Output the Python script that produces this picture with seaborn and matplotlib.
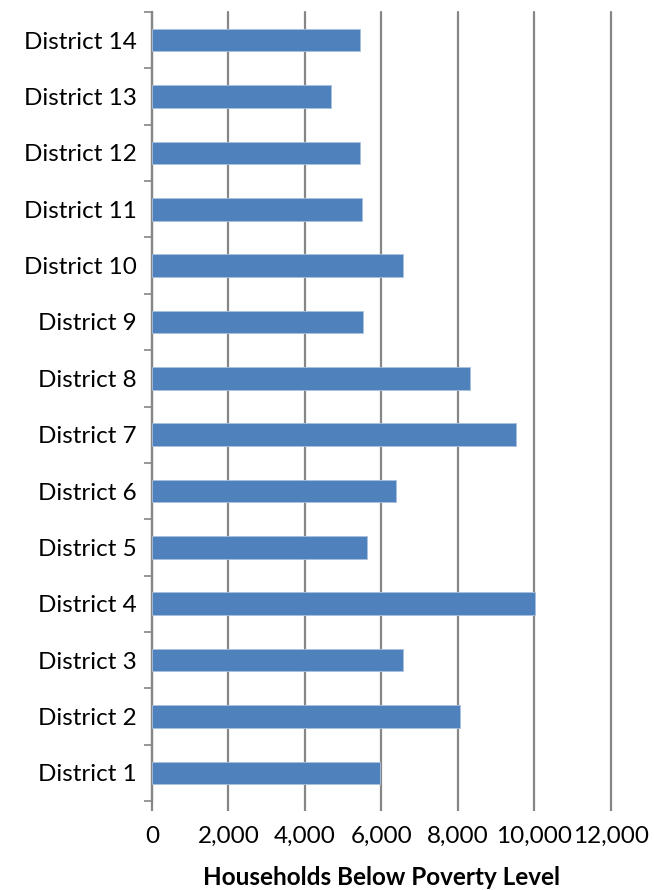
import numpy as np
import pandas as pd
import matplotlib.pyplot as plt
import seaborn as sns
from matplotlib.ticker import FuncFormatter, FixedLocator

# data
districts = ["District %d" % i for i in range(1, 15)]
households = [5950, 8060, 6575, 10020, 5610, 6390, 9520, 8320, 5530, 6575, 5480, 5450, 4670, 5453]

df = pd.DataFrame({"District": districts, "Households": households})

sns.set_style("white")
plt.rcParams['font.family'] = ['Lato', 'DejaVu Sans']

fig = plt.figure(figsize=(6.54, 8.90), dpi=100)
ax = fig.add_axes([0.2324, 0.1, 0.934 - 0.2324, 0.8865])

# District 14 at the top
order = districts[::-1]
sns.barplot(data=df, x="Households", y="District", order=order, color="#4F81BD",
            saturation=1, width=0.4, edgecolor="#A9C1DF", linewidth=0.6, ax=ax, zorder=3)

ax.set_xlim(0, 12000)
ax.set_ylim(len(order) - 0.5, -0.5)
ax.set_xticks(np.arange(0, 12001, 2000))
ax.xaxis.set_major_formatter(FuncFormatter(lambda v, p: "{:,.0f}".format(v)))
ax.grid(axis="x", color="#868686", linewidth=1.6, zorder=0)
ax.set_axisbelow(True)
for line in ax.get_xgridlines():
    line.set_clip_on(False)

# category boundary ticks on the left
ax.yaxis.set_minor_locator(FixedLocator(np.arange(-0.5, len(order), 1)))
ax.tick_params(axis="y", which="major", length=0, pad=11, labelsize=17.5, labelcolor="black")
ax.tick_params(axis="y", which="minor", length=6, width=1.2, color="#868686", left=True)
ax.tick_params(axis="x", which="major", length=7, width=1.6, color="#868686", bottom=True,
               pad=11, labelsize=17.5, labelcolor="black")

for s in ["top", "right", "bottom"]:
    ax.spines[s].set_visible(False)
ax.spines["left"].set_color("#868686")
ax.spines["left"].set_linewidth(1.6)

ax.set_ylabel("")
ax.set_xlabel("Households Below Poverty Level", fontsize=17.5, fontweight="bold",
              labelpad=14, color="black")

fig.savefig("out.png", dpi=100)
